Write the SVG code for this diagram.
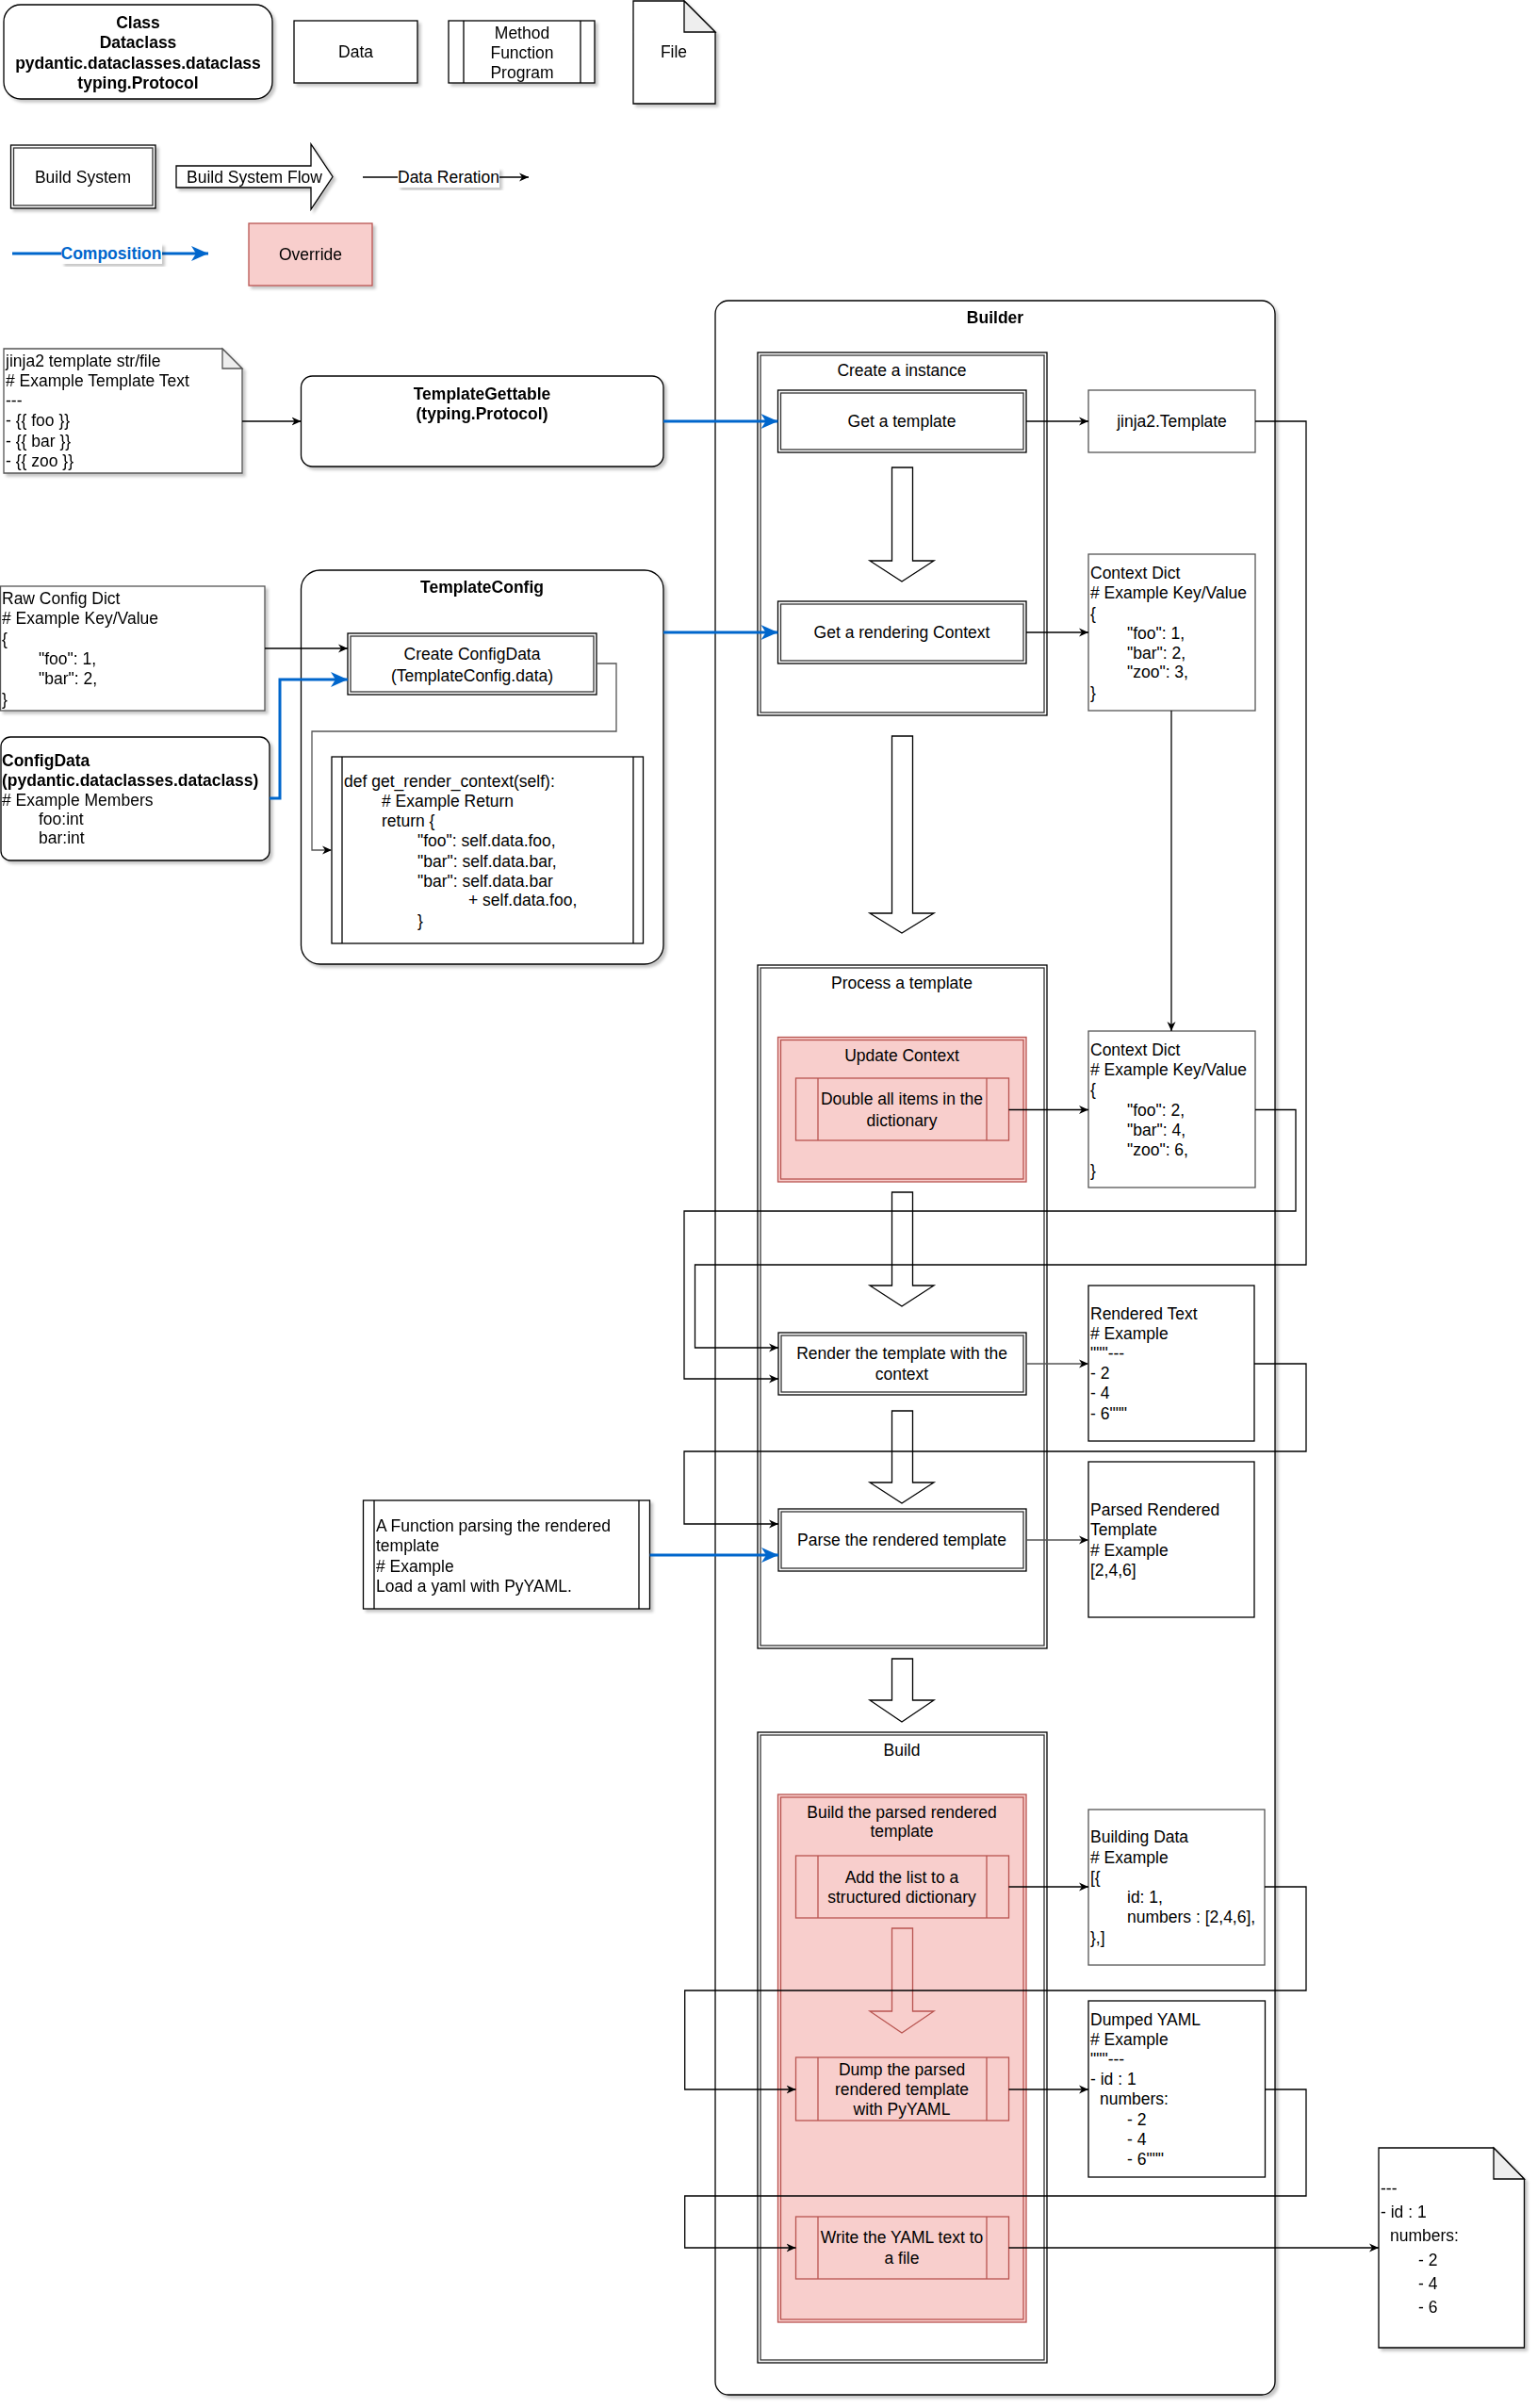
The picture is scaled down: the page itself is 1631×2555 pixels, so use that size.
<svg xmlns="http://www.w3.org/2000/svg" width="1631" height="2555" viewBox="0 0 1631 2555">
<defs>
<style>
text{font-family:"Liberation Sans",Arial,sans-serif;font-size:17.5px;fill:#000}
.b{font-weight:bold}
.c{text-anchor:middle}
.box{fill:#fff;stroke:#000;stroke-width:1.3}
.gbox{fill:#fff;stroke:#555;stroke-width:1.3}
.dbl{fill:none;stroke:#333;stroke-width:1.3}
.pink{fill:#f8cecc;stroke:#b85450;stroke-width:1.3}
.pl{fill:none;stroke:#b85450;stroke-width:1.3}
.ln{fill:none;stroke:#000;stroke-width:1.3}
.conn{fill:none;stroke:#000;stroke-width:1.3}
.gconn{fill:none;stroke:#555;stroke-width:1.3}
.blue{fill:none;stroke:#0066CC;stroke-width:3}
.flow{fill:#fff;stroke:#000;stroke-width:1.3}
.pflow{fill:#f8cecc;stroke:#b85450;stroke-width:1.3}
.fold{fill:#eee;stroke:#000;stroke-width:1.3}
.sh{filter:url(#sh)}
</style>
<filter id="sh" x="-5%" y="-5%" width="115%" height="115%">
<feDropShadow dx="3" dy="3" stdDeviation="1.5" flood-color="#000" flood-opacity="0.22"/>
</filter>
<marker id="ah" viewBox="0 0 10 10" refX="10" refY="5" markerWidth="10" markerHeight="10" markerUnits="userSpaceOnUse" orient="auto">
<path d="M0,0.5 L10,5 L0,9.5 L3,5 Z" fill="#000"/>
</marker>
<marker id="bh" viewBox="0 0 18 16" refX="18" refY="8" markerWidth="18" markerHeight="16" markerUnits="userSpaceOnUse" orient="auto">
<path d="M0,0 L18,8 L0,16 L5,8 Z" fill="#0066CC"/>
</marker>
</defs>
<rect width="1631" height="2555" fill="#fff"/>

<!-- Legend -->
<g id="legend-class" class="sh">
<rect class="box" x="4" y="5" width="285" height="100" rx="18"/>
<text class="b c" x="146.5" y="30">Class</text>
<text class="b c" x="146.5" y="51">Dataclass</text>
<text class="b c" x="146.5" y="73">pydantic.dataclasses.dataclass</text>
<text class="b c" x="146.5" y="94">typing.Protocol</text>
</g>
<g id="legend-data" class="sh">
<rect class="box" x="312" y="22" width="131" height="66"/>
<text class="c" x="377.5" y="61">Data</text>
</g>
<g id="legend-method" class="sh">
<rect class="box" x="476" y="22" width="155" height="66"/>
<path class="ln" d="M492,22 V88 M616,22 V88"/>
<text class="c" x="554" y="41">Method</text>
<text class="c" x="554" y="62">Function</text>
<text class="c" x="554" y="83">Program</text>
</g>
<g id="legend-file" class="sh">
<path class="box" d="M672,1 H726 L759,34 V110 H672 Z"/>
<path class="fold" d="M726,1 V34 H759 Z"/>
<text class="c" x="715" y="61">File</text>
</g>
<g id="legend-build-system" class="sh">
<rect class="box" x="11.5" y="154" width="153.5" height="67"/>
<rect class="dbl" x="14.5" y="157" width="147.5" height="61"/>
<text class="c" x="88" y="194">Build System</text>
</g>
<g id="legend-flow" class="sh">
<path class="flow" d="M187,176 H330 V153 L353,187.5 L330,222 V199 H187 Z"/>
<text class="c" x="270" y="194">Build System Flow</text>
</g>
<g id="legend-relation">
<line class="conn" x1="385" y1="188" x2="561" y2="188" marker-end="url(#ah)"/>
<rect x="422" y="178" width="108" height="21" fill="#fff" class="sh"/>
<text class="c" x="476" y="194">Data Reration</text>
</g>
<g id="legend-composition">
<line class="blue" x1="13" y1="269" x2="221" y2="269" marker-end="url(#bh)"/>
<rect x="65" y="258" width="107" height="22" fill="#fff" class="sh"/>
<text class="b c" x="118" y="275" style="fill:#0066CC">Composition</text>
</g>
<g id="legend-override" class="sh">
<rect class="pink" x="264" y="237" width="131" height="66"/>
<text class="c" x="329.5" y="276">Override</text>
</g>

<!-- Left side inputs -->
<g id="jinja-template-note" class="sh">
<path class="gbox" d="M4,370 H236 L257,391 V502 H4 Z"/>
<path class="fold" d="M236,370 V391 H257 Z" style="stroke:#555"/>
<text x="6" y="389">jinja2 template str/file</text>
<text x="6" y="410"># Example Template Text</text>
<text x="6" y="431">---</text>
<text x="6" y="452">- {{ foo }}</text>
<text x="6" y="474">- {{ bar }}</text>
<text x="6" y="495">- {{ zoo }}</text>
</g>
<g id="template-gettable" class="sh">
<rect class="box" x="319.5" y="399" width="384.5" height="96" rx="12"/>
<text class="b c" x="511.5" y="424">TemplateGettable</text>
<text class="b c" x="511.5" y="445">(typing.Protocol)</text>
</g>
<g id="template-config" class="sh">
<rect class="box" x="319.5" y="605" width="384.5" height="418" rx="20"/>
<text class="b c" x="511.5" y="629">TemplateConfig</text>
</g>
<g id="create-configdata">
<rect class="box" x="369" y="672" width="264" height="65"/>
<rect class="dbl" x="372" y="675" width="258" height="59"/>
<text class="c" x="501" y="700">Create ConfigData</text>
<text class="c" x="501" y="723">(TemplateConfig.data)</text>
</g>
<g id="get-render-context">
<rect class="box" x="352" y="803" width="330.5" height="198"/>
<path class="ln" d="M363,803 V1001 M672,803 V1001"/>
<text x="365" y="835">def get_render_context(self):</text>
<text x="405" y="856"># Example Return</text>
<text x="405" y="877">return {</text>
<text x="443" y="898">"foo": self.data.foo,</text>
<text x="443" y="920">"bar": self.data.bar,</text>
<text x="443" y="941">"bar": self.data.bar</text>
<text x="497" y="961">+ self.data.foo,</text>
<text x="443" y="983">}</text>
</g>
<g id="raw-config-dict" class="sh">
<rect class="gbox" x="0.5" y="622" width="280.5" height="132"/>
<text x="2" y="641">Raw Config Dict</text>
<text x="2" y="662"># Example Key/Value</text>
<text x="2" y="684">{</text>
<text x="41" y="705">"foo": 1,</text>
<text x="41" y="726">"bar": 2,</text>
<text x="2" y="748">}</text>
</g>
<g id="configdata" class="sh">
<rect class="box" x="1" y="782" width="285" height="131" rx="10"/>
<text class="b" x="2" y="813">ConfigData</text>
<text class="b" x="2" y="834">(pydantic.dataclasses.dataclass)</text>
<text x="2" y="855"># Example Members</text>
<text x="41" y="875">foo:int</text>
<text x="41" y="895">bar:int</text>
</g>
<g id="parse-function" class="sh">
<rect class="box" x="385.5" y="1592" width="304" height="115"/>
<path class="ln" d="M397,1592 V1707 M678,1592 V1707"/>
<text x="399" y="1625">A Function parsing the rendered</text>
<text x="399" y="1646">template</text>
<text x="399" y="1668"># Example</text>
<text x="399" y="1689">Load a yaml with PyYAML.</text>
</g>

<!-- Builder -->
<g id="builder" class="sh">
<rect class="box" x="759" y="319" width="594" height="2222" rx="14"/>
<text class="b c" x="1056" y="343">Builder</text>
</g>
<g id="create-instance">
<rect class="box" x="804" y="374" width="307" height="385"/>
<rect class="dbl" x="807" y="377" width="301" height="379"/>
<text class="c" x="957" y="399">Create a instance</text>
</g>
<g id="get-template">
<rect class="box" x="825.5" y="414" width="263.5" height="66"/>
<rect class="dbl" x="828.5" y="417" width="257.5" height="60"/>
<text class="c" x="957" y="453">Get a template</text>
</g>
<g id="flow-1"><path class="flow" d="M946.5,496 H968.5 V595 H991 L957,617 L923,595 H946.5 Z"/></g>
<g id="get-rendering-context">
<rect class="box" x="825.5" y="638" width="263.5" height="66"/>
<rect class="dbl" x="828.5" y="641" width="257.5" height="60"/>
<text class="c" x="957" y="677">Get a rendering Context</text>
</g>
<g id="jinja2-template">
<rect class="gbox" x="1155" y="414" width="177" height="66"/>
<text class="c" x="1243.5" y="453">jinja2.Template</text>
</g>
<g id="context-dict-1">
<rect class="gbox" x="1155" y="588" width="177" height="166"/>
<text x="1157" y="614">Context Dict</text>
<text x="1157" y="635"># Example Key/Value</text>
<text x="1157" y="657">{</text>
<text x="1196" y="678">"foo": 1,</text>
<text x="1196" y="699">"bar": 2,</text>
<text x="1196" y="719">"zoo": 3,</text>
<text x="1157" y="741">}</text>
</g>
<g id="flow-2"><path class="flow" d="M946.5,781 H968.5 V969 H991 L957,990 L923,969 H946.5 Z"/></g>
<g id="process-template">
<rect class="box" x="804" y="1024" width="307" height="725"/>
<rect class="dbl" x="807" y="1027" width="301" height="719"/>
<text class="c" x="957" y="1049">Process a template</text>
</g>
<g id="update-context">
<rect class="pink" x="825.5" y="1100.5" width="263.5" height="153.5"/>
<rect class="pl" x="828.5" y="1103.5" width="257.5" height="147.5"/>
<text class="c" x="957" y="1126">Update Context</text>
</g>
<g id="double-items">
<rect class="pink" x="844.5" y="1144" width="226" height="66"/>
<path class="pl" d="M868,1144 V1210 M1047,1144 V1210"/>
<text class="c" x="957" y="1172">Double all items in the</text>
<text class="c" x="957" y="1195">dictionary</text>
</g>
<g id="context-dict-2">
<rect class="gbox" x="1155" y="1094" width="177" height="166"/>
<text x="1157" y="1120">Context Dict</text>
<text x="1157" y="1141"># Example Key/Value</text>
<text x="1157" y="1162">{</text>
<text x="1196" y="1184">"foo": 2,</text>
<text x="1196" y="1205">"bar": 4,</text>
<text x="1196" y="1226">"zoo": 6,</text>
<text x="1157" y="1248">}</text>
</g>
<g id="flow-3"><path class="flow" d="M946.5,1265 H968.5 V1364 H991 L957,1386 L923,1364 H946.5 Z"/></g>
<g id="render-template">
<rect class="box" x="826" y="1414" width="263" height="66"/>
<rect class="dbl" x="829" y="1417" width="257" height="60"/>
<text class="c" x="957" y="1442">Render the template with the</text>
<text class="c" x="957" y="1464">context</text>
</g>
<g id="rendered-text">
<rect class="box" x="1155" y="1364" width="176" height="165"/>
<text x="1157" y="1400">Rendered Text</text>
<text x="1157" y="1421"># Example</text>
<text x="1157" y="1442">"""---</text>
<text x="1157" y="1463">- 2</text>
<text x="1157" y="1484">- 4</text>
<text x="1157" y="1506">- 6"""</text>
</g>
<g id="flow-4"><path class="flow" d="M946.5,1497 H968.5 V1573 H991 L957,1595 L923,1573 H946.5 Z"/></g>
<g id="parse-template">
<rect class="box" x="826" y="1601" width="263" height="66"/>
<rect class="dbl" x="829" y="1604" width="257" height="60"/>
<text class="c" x="957" y="1640">Parse the rendered template</text>
</g>
<g id="parsed-rendered">
<rect class="box" x="1155" y="1551" width="176" height="165"/>
<text x="1157" y="1608">Parsed Rendered</text>
<text x="1157" y="1629">Template</text>
<text x="1157" y="1651"># Example</text>
<text x="1157" y="1672">[2,4,6]</text>
</g>
<g id="flow-5"><path class="flow" d="M946.5,1760 H968.5 V1804 H991 L957,1827 L923,1804 H946.5 Z"/></g>
<g id="build">
<rect class="box" x="804" y="1838" width="307" height="669"/>
<rect class="dbl" x="807" y="1841" width="301" height="663"/>
<text class="c" x="957" y="1863">Build</text>
</g>
<g id="build-parsed">
<rect class="pink" x="825.5" y="1904" width="263.5" height="560"/>
<rect class="pl" x="828.5" y="1907" width="257.5" height="554"/>
<text class="c" x="957" y="1929">Build the parsed rendered</text>
<text class="c" x="957" y="1949">template</text>
</g>
<g id="add-list">
<rect class="pink" x="844.5" y="1969" width="226" height="66"/>
<path class="pl" d="M868,1969 V2035 M1047,1969 V2035"/>
<text class="c" x="957" y="1998">Add the list to a</text>
<text class="c" x="957" y="2019">structured dictionary</text>
</g>
<g id="flow-6"><path class="pflow" d="M946.5,2046 H968.5 V2134 H991 L957,2157 L923,2134 H946.5 Z"/></g>
<g id="dump-yaml">
<rect class="pink" x="844.5" y="2183" width="226" height="67"/>
<path class="pl" d="M868,2183 V2250 M1047,2183 V2250"/>
<text class="c" x="957" y="2202">Dump the parsed</text>
<text class="c" x="957" y="2223">rendered template</text>
<text class="c" x="957" y="2244">with PyYAML</text>
</g>
<g id="write-file">
<rect class="pink" x="844.5" y="2352" width="226" height="66"/>
<path class="pl" d="M868,2352 V2418 M1047,2352 V2418"/>
<text class="c" x="957" y="2380">Write the YAML text to</text>
<text class="c" x="957" y="2402">a file</text>
</g>
<g id="building-data">
<rect class="gbox" x="1155" y="1920" width="187" height="165"/>
<text x="1157" y="1955">Building Data</text>
<text x="1157" y="1977"># Example</text>
<text x="1157" y="1998">[{</text>
<text x="1196" y="2019">id: 1,</text>
<text x="1196" y="2040">numbers : [2,4,6],</text>
<text x="1157" y="2062">},]</text>
</g>
<g id="dumped-yaml">
<rect class="box" x="1155" y="2123" width="187.5" height="187"/>
<text x="1157" y="2149">Dumped YAML</text>
<text x="1157" y="2170"># Example</text>
<text x="1157" y="2191">"""---</text>
<text x="1157" y="2212">- id : 1</text>
<text x="1167" y="2233">numbers:</text>
<text x="1196" y="2255">- 2</text>
<text x="1196" y="2276">- 4</text>
<text x="1196" y="2297">- 6"""</text>
</g>
<g id="output-file" class="sh">
<path class="box" d="M1463,2279 H1585 L1617.5,2312 V2491 H1463 Z"/>
<path class="fold" d="M1585,2279 V2312 H1617.5 Z"/>
<text x="1465" y="2328">---</text>
<text x="1465" y="2353">- id : 1</text>
<text x="1475" y="2378">numbers:</text>
<text x="1505" y="2404">- 2</text>
<text x="1505" y="2429">- 4</text>
<text x="1505" y="2454">- 6</text>
</g>

<!-- Connectors -->
<g id="connectors">
<line class="conn" x1="257" y1="447" x2="319.5" y2="447" marker-end="url(#ah)"/>
<line class="blue" x1="704" y1="447" x2="825.5" y2="447" marker-end="url(#bh)"/>
<line class="blue" x1="704" y1="671" x2="825.5" y2="671" marker-end="url(#bh)"/>
<line class="conn" x1="281" y1="688" x2="369" y2="688" marker-end="url(#ah)"/>
<path class="blue" d="M286,847 H297 V721 H369" marker-end="url(#bh)"/>
<path class="gconn" d="M633,704 H654 V776 H331 V902 H352" marker-end="url(#ah)"/>
<line class="conn" x1="1089" y1="447" x2="1155" y2="447" marker-end="url(#ah)"/>
<line class="conn" x1="1089" y1="671" x2="1155" y2="671" marker-end="url(#ah)"/>
<line class="conn" x1="1243" y1="754" x2="1243" y2="1094" marker-end="url(#ah)"/>
<path class="conn" d="M1332,447 H1386 V1342 H737.5 V1430 H826" marker-end="url(#ah)"/>
<line class="conn" x1="1070.5" y1="1177.5" x2="1155" y2="1177.5" marker-end="url(#ah)"/>
<path class="conn" d="M1332,1177.5 H1375 V1285 H726 V1463 H826" marker-end="url(#ah)"/>
<line class="gconn" x1="1089" y1="1447" x2="1155" y2="1447" marker-end="url(#ah)"/>
<path class="conn" d="M1331,1447 H1386 V1540 H726 V1617 H826" marker-end="url(#ah)"/>
<line class="gconn" x1="1089" y1="1634" x2="1155" y2="1634" marker-end="url(#ah)"/>
<line class="blue" x1="689.6" y1="1650" x2="826" y2="1650" marker-end="url(#bh)"/>
<line class="conn" x1="1070.5" y1="2002" x2="1155" y2="2002" marker-end="url(#ah)"/>
<path class="conn" d="M1342,2002 H1386 V2112 H726.7 V2217 H844.5" marker-end="url(#ah)"/>
<line class="conn" x1="1070.5" y1="2217" x2="1155" y2="2217" marker-end="url(#ah)"/>
<path class="conn" d="M1342.5,2217 H1386 V2330 H726.7 V2385 H844.5" marker-end="url(#ah)"/>
<line class="conn" x1="1070.5" y1="2385" x2="1463" y2="2385" marker-end="url(#ah)"/>
</g>
</svg>
